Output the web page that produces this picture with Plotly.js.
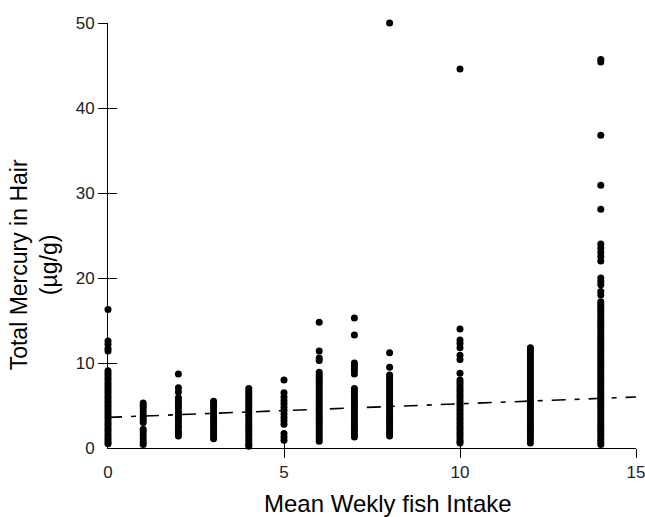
<!DOCTYPE html>
<html>
<head>
<meta charset="utf-8">
<script src="https://cdn.plot.ly/plotly-3.0.1.min.js"></script>
<style>html,body{margin:0;padding:0;background:#fff;}#chart{width:645px;height:517px;}</style>
</head>
<body>
<div id="chart"></div>
<script>
// Mean weekly fish intake groups
var fishIntake = [0, 1, 2, 3, 4, 5, 6, 7, 8, 10, 12, 14];

// Total mercury in hair (µg/g), one array per intake group
var hg0 = [16.3, 12.6, 12.2, 11.7, 11.4, 9.1, 8.8, 8.5, 8.2, 7.9, 7.6, 7.3, 7.0, 6.7, 6.4, 6.1, 5.8, 5.5, 5.2, 4.9, 4.6, 4.3, 4.0, 3.7, 3.4, 3.1, 2.8, 2.5, 2.2, 1.9, 1.6, 1.3, 1.0, 0.7, 0.5];
var hg1 = [5.3, 5.0, 4.7, 4.3, 3.9, 3.6, 3.3, 3.0, 2.2, 1.9, 1.5, 1.1, 0.7, 0.4];
var hg2 = [8.7, 7.1, 6.6, 5.9, 5.6, 5.3, 5.0, 4.7, 4.3, 4.0, 3.7, 3.4, 3.1, 2.7, 2.4, 2.0, 1.7, 1.4];
var hg3 = [5.5, 5.3, 5.0, 4.7, 4.4, 4.1, 3.8, 3.5, 3.2, 2.9, 2.6, 2.3, 2.0, 1.7, 1.4, 1.1];
var hg4 = [7.0, 6.7, 6.4, 6.1, 5.8, 5.5, 5.2, 4.9, 4.6, 4.3, 4.0, 3.7, 3.4, 3.1, 2.8, 2.5, 2.2, 1.9, 1.6, 1.3, 1.0, 0.7, 0.4, 0.2];
var hg5 = [8.0, 6.5, 6.0, 5.6, 5.2, 4.8, 4.4, 4.0, 3.6, 3.2, 2.8, 1.7, 1.3, 0.9];
var hg6 = [14.8, 11.4, 10.6, 10.3, 8.9, 8.6, 8.3, 8.0, 7.7, 7.4, 7.1, 6.8, 6.5, 6.2, 5.9, 5.6, 5.3, 5.0, 4.7, 4.4, 4.1, 3.8, 3.5, 3.2, 2.9, 2.6, 2.3, 2.0, 1.7, 1.4, 1.1, 0.8];
var hg7 = [15.3, 13.3, 10.0, 9.7, 9.4, 9.1, 8.7, 7.0, 6.7, 6.4, 6.1, 5.8, 5.5, 5.2, 4.9, 4.6, 4.3, 4.0, 3.7, 3.4, 3.1, 2.8, 2.5, 2.2, 1.9, 1.6, 1.3];
var hg8 = [50.0, 11.2, 9.5, 8.6, 8.3, 8.0, 7.7, 7.4, 7.1, 6.8, 6.5, 6.2, 5.9, 5.6, 5.3, 5.0, 4.7, 4.4, 4.1, 3.8, 3.5, 3.2, 2.9, 2.6, 2.3, 2.0, 1.7, 1.4];
var hg10 = [44.6, 14.0, 12.7, 12.3, 11.8, 10.9, 10.4, 8.8, 8.0, 7.7, 7.4, 7.1, 6.8, 6.5, 6.2, 5.9, 5.6, 5.3, 5.0, 4.7, 4.4, 4.1, 3.8, 3.5, 3.2, 2.9, 2.6, 2.3, 2.0, 1.7, 1.4, 1.1, 0.8, 0.6];
var hg12 = [11.8, 11.5, 11.2, 10.9, 10.6, 10.3, 10.0, 9.7, 9.4, 9.1, 8.8, 8.5, 8.2, 7.9, 7.6, 7.3, 7.0, 6.7, 6.4, 6.1, 5.8, 5.5, 5.2, 4.9, 4.6, 4.3, 4.0, 3.7, 3.4, 3.1, 2.8, 2.5, 2.2, 1.9, 1.6, 1.3, 1.0, 0.6];
var hg14 = [45.7, 45.4, 36.8, 30.9, 28.1, 24.0, 23.5, 23.0, 22.5, 22.0, 20.0, 19.6, 19.2, 18.4, 18.0, 17.2, 16.9, 16.6, 16.3, 16.0, 15.7, 15.4, 15.1, 14.8, 14.5, 14.2, 13.9, 13.6, 13.3, 13.0, 12.7, 12.4, 12.1, 11.8, 11.5, 11.2, 10.9, 10.6, 10.3, 10.0, 9.7, 9.4, 9.1, 8.8, 8.5, 8.2, 7.9, 7.6, 7.3, 7.0, 6.7, 6.4, 6.1, 5.8, 5.5, 5.2, 4.9, 4.6, 4.3, 4.0, 3.7, 3.4, 3.1, 2.8, 2.5, 2.2, 1.9, 1.6, 1.3, 1.0, 0.7, 0.4];

// Fitted regression line end points
var trendX = [0, 15];
var trendY = [3.6, 6.0];

// Tick labels
var xTickVals = [0, 5, 10, 15];
var yTickVals = [0, 10, 20, 30, 40, 50];

var groups = [hg0, hg1, hg2, hg3, hg4, hg5, hg6, hg7, hg8, hg10, hg12, hg14];
var px = [], py = [];
groups.forEach(function (g, i) {
  g.forEach(function (v) { px.push(fishIntake[i]); py.push(v); });
});

var FONT = '"Liberation Sans", Arial, sans-serif';

var traces = [
  {
    type: 'scatter', mode: 'markers', x: px, y: py, cliponaxis: false,
    marker: { color: '#000', size: 7, line: { width: 0 } },
    hoverinfo: 'x+y'
  },
  {
    type: 'scatter', mode: 'lines', x: trendX, y: trendY, cliponaxis: false,
    line: { color: '#000', width: 1.6, dash: '14px,9px,5px,9px' }
  },
  { type: 'scatter', x: [null], y: [null], xaxis: 'x2', yaxis: 'y2', hoverinfo: 'skip' },
  { type: 'scatter', x: [null], y: [null], xaxis: 'x3', yaxis: 'y3', hoverinfo: 'skip' }
];

var baseX = { range: [0, 15], showgrid: false, zeroline: false, fixedrange: true };
var baseY = { range: [0, 50], showgrid: false, zeroline: false, fixedrange: true };

var layout = {
  width: 645, height: 517,
  margin: { l: 108, r: 9, t: 23, b: 69 },
  paper_bgcolor: '#fff', plot_bgcolor: '#fff',
  showlegend: false,
  font: { family: FONT, color: '#000' },
  xaxis: Object.assign({}, baseX, {
    tickmode: 'array', tickvals: xTickVals, ticktext: xTickVals.map(String),
    ticks: 'outside', ticklen: 9, tickcolor: 'rgba(0,0,0,0)',
    ticklabeloverflow: 'allow',
    showline: true, linecolor: '#000', linewidth: 1,
    tickfont: { family: FONT, size: 17, color: '#222' }
  }),
  yaxis: Object.assign({}, baseY, {
    tickmode: 'array', tickvals: yTickVals, ticktext: yTickVals.map(String),
    ticks: 'outside', ticklen: 9, tickcolor: 'rgba(0,0,0,0)',
    ticklabeloverflow: 'allow',
    showline: true, linecolor: '#000', linewidth: 1,
    tickfont: { family: FONT, size: 17, color: '#222' }
  }),
  xaxis2: Object.assign({}, baseX, {
    overlaying: 'x', anchor: 'y2', side: 'bottom',
    tickmode: 'array', tickvals: xTickVals.slice(1),
    ticks: 'outside', ticklen: 9, tickwidth: 1, tickcolor: '#000',
    showticklabels: false, showline: false
  }),
  yaxis2: Object.assign({}, baseY, {
    overlaying: 'y', anchor: 'x2', side: 'left',
    tickmode: 'array', tickvals: yTickVals.slice(1),
    ticks: 'outside', ticklen: 9, tickwidth: 1, tickcolor: '#000',
    showticklabels: false, showline: false
  }),
  xaxis3: Object.assign({}, baseX, {
    overlaying: 'x', anchor: 'y3', side: 'bottom',
    tickmode: 'array', tickvals: xTickVals.slice(1),
    ticks: 'inside', ticklen: 9, tickwidth: 1, tickcolor: '#000',
    showticklabels: false, showline: false
  }),
  yaxis3: Object.assign({}, baseY, {
    overlaying: 'y', anchor: 'x3', side: 'left',
    tickmode: 'array', tickvals: yTickVals.slice(1),
    ticks: 'inside', ticklen: 9, tickwidth: 1, tickcolor: '#000',
    showticklabels: false, showline: false
  }),
  annotations: [
    {
      xref: 'paper', yref: 'paper', x: 0.53, y: -0.13,
      xanchor: 'center', yanchor: 'middle', showarrow: false,
      text: 'Mean Wekly fish Intake',
      font: { family: FONT, size: 24, color: '#000' }
    },
    {
      xref: 'paper', yref: 'paper', x: -0.14, y: 0.43,
      xanchor: 'center', yanchor: 'middle', showarrow: false, textangle: -90,
      text: 'Total Mercury in Hair<br>(µg/g)',
      font: { family: FONT, size: 23, color: '#000' }
    }
  ]
};

Plotly.newPlot('chart', traces, layout, { staticPlot: true, displayModeBar: false });
</script>
</body>
</html>
